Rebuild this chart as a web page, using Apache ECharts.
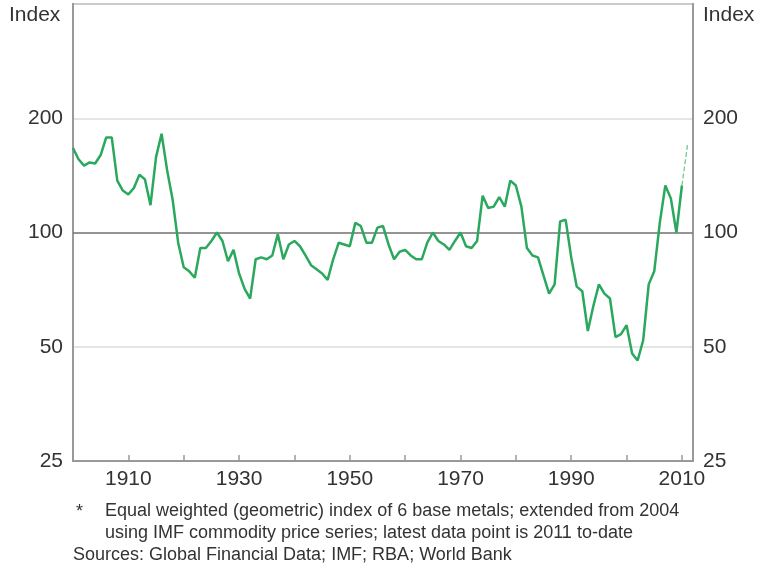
<!DOCTYPE html>
<html>
<head>
<meta charset="utf-8">
<script src="https://cdn.jsdelivr.net/npm/echarts@6/dist/echarts.min.js"></script>
<style>
  html, body { margin: 0; padding: 0; background: #fff; }
  #chart { width: 761px; height: 567px; }
</style>
</head>
<body>
<div id="chart"></div>
<script>
// base metals price index, annual, log scale
const years = [1900, 1901, 1902, 1903, 1904, 1905, 1906, 1907, 1908, 1909,
  1910, 1911, 1912, 1913, 1914, 1915, 1916, 1917, 1918, 1919,
  1920, 1921, 1922, 1923, 1924, 1925, 1926, 1927, 1928, 1929,
  1930, 1931, 1932, 1933, 1934, 1935, 1936, 1937, 1938, 1939,
  1940, 1941, 1942, 1943, 1944, 1945, 1946, 1947, 1948, 1949,
  1950, 1951, 1952, 1953, 1954, 1955, 1956, 1957, 1958, 1959,
  1960, 1961, 1962, 1963, 1964, 1965, 1966, 1967, 1968, 1969,
  1970, 1971, 1972, 1973, 1974, 1975, 1976, 1977, 1978, 1979,
  1980, 1981, 1982, 1983, 1984, 1985, 1986, 1987, 1988, 1989,
  1990, 1991, 1992, 1993, 1994, 1995, 1996, 1997, 1998, 1999,
  2000, 2001, 2002, 2003, 2004, 2005, 2006, 2007, 2008, 2009,
  2010]
const values = [167, 156, 150, 153, 152, 160, 178, 178, 137, 129,
  126, 131, 142, 138, 118, 158, 182, 146, 122, 94,
  81, 79, 76, 91, 91, 95, 100, 95, 84, 90,
  78, 71, 67, 85, 86, 85, 87, 99, 85, 93,
  95, 92, 87, 82, 80, 78, 75, 85, 94, 93,
  92, 106, 104, 94, 94, 103, 104, 93, 85, 89,
  90, 87, 85, 85, 94, 100, 95, 93, 90, 95,
  100, 92, 91, 95, 125, 116, 117, 124, 117, 137,
  133, 117, 91, 87, 86, 77, 69, 73, 107, 108,
  86, 72, 70, 55, 64, 73, 69, 67, 53, 54,
  57, 48, 46, 52, 73, 79, 106, 133, 123, 100,
  133]
// 2011 to-date point, drawn as a dashed extension
const latestYear = [2010, 2011]
const latestValue = [133, 170]

const yTicks = [25, 50, 100, 200]
const yGrid = [25, 50, 100, 200, 400]
const footnote1 = 'Equal weighted (geometric) index of 6 base metals; extended from 2004'
const footnote2 = 'using IMF commodity price series; latest data point is 2011 to-date'
const sources = 'Sources: Global Financial Data; IMF; RBA; World Bank'

const lineColor = '#2aa85e'
const textColor = '#333'
const fontFamily = '"Liberation Sans", Arial, sans-serif'

const chart = echarts.init(document.getElementById('chart'))

const mainData = years.map((y, i) => [y, values[i]])
const latestData = latestYear.map((y, i) => [y, latestValue[i]])

const yAxisBase = {
  type: 'log',
  logBase: 2,
  min: 25,
  max: 400,
  axisLine: { show: true, lineStyle: { color: '#999', width: 2 } },
  axisTick: { show: false, customValues: yGrid },
  axisLabel: {
    color: textColor,
    fontSize: 21,
    fontFamily: fontFamily,
    margin: 10,
    customValues: yTicks,
    formatter: function (v) { return String(Math.round(v)) }
  }
}

chart.setOption({
  animation: false,
  grid: {
    left: 73,
    right: 68,
    top: 4,
    bottom: 106,
    outerBoundsMode: 'none',
    show: true,
    borderColor: '#999',
    borderWidth: 2
  },
  xAxis: {
    type: 'value',
    min: 1900,
    max: 2012,
    interval: 10,
    axisLine: { show: true, onZero: false, lineStyle: { color: '#999', width: 2 } },
    axisTick: { show: true, inside: true, length: 6, lineStyle: { color: '#999', width: 1.5 } },
    splitLine: { show: false },
    axisLabel: {
      color: textColor,
      fontSize: 21,
      fontFamily: fontFamily,
      margin: 8,
      showMaxLabel: false,
      formatter: function (v) {
        return (v - 1910) % 20 === 0 ? String(v) : ''
      }
    }
  },
  yAxis: [
    Object.assign({}, yAxisBase, {
      position: 'left',
      splitLine: { show: true, lineStyle: { color: '#dcdcdc', width: 1.5 } }
    }),
    Object.assign({}, yAxisBase, {
      position: 'right',
      splitLine: { show: false }
    })
  ],
  series: [
    {
      type: 'line',
      data: mainData,
      symbol: 'none',
      lineStyle: { color: lineColor, width: 2.5 },
      markLine: {
        silent: true,
        symbol: 'none',
        label: { show: false },
        lineStyle: { color: '#7a7a7a', width: 1.5, type: 'solid' },
        data: [{ yAxis: 100 }]
      },
      z: 5
    },
    {
      type: 'line',
      data: latestData,
      symbol: 'none',
      lineStyle: { color: lineColor, width: 1.2, type: 'dashed', opacity: 0.7 },
      z: 5
    }
  ],
  graphic: [
    { type: 'text', left: 9, top: 5, style: { text: 'Index', fill: textColor, font: '21px ' + fontFamily } },
    { type: 'text', left: 703, top: 5, style: { text: 'Index', fill: textColor, font: '21px ' + fontFamily } },
    { type: 'text', left: 76, top: 503, style: { text: '*', fill: textColor, font: '18px ' + fontFamily } },
    { type: 'text', left: 105, top: 502, style: { text: footnote1, fill: textColor, font: '18px ' + fontFamily } },
    { type: 'text', left: 105, top: 524, style: { text: footnote2, fill: textColor, font: '18px ' + fontFamily } },
    { type: 'text', left: 73, top: 546, style: { text: sources, fill: textColor, font: '18px ' + fontFamily } }
  ]
})
</script>
</body>
</html>
